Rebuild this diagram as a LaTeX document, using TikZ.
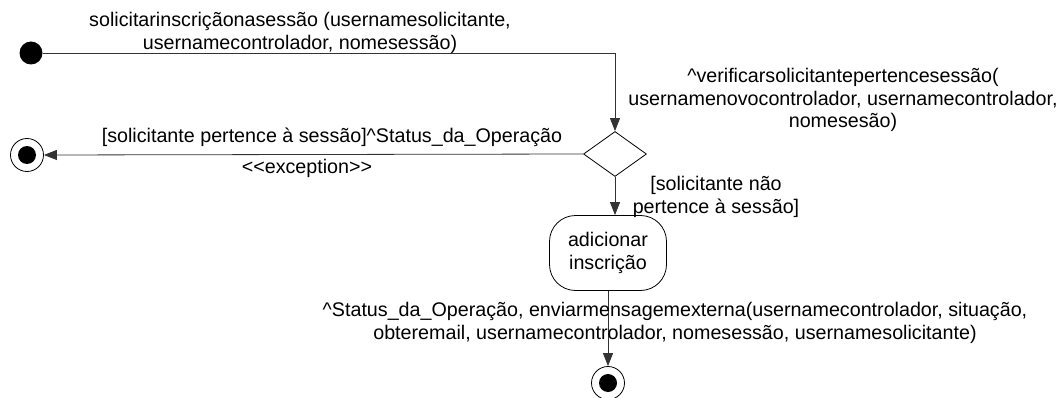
\documentclass[tikz,border=0pt]{standalone}
\usepackage{fontspec}
\setmainfont{Liberation Sans}
\usetikzlibrary{shapes.geometric,arrows.meta}
\begin{document}
\begin{tikzpicture}[x=1pt,y=-1pt,
  conn/.style={draw=black!80, line width=0.8pt},
  arr/.style={conn,-{Triangle[length=13pt,width=10pt]}},
  lbl/.style={font=\fontsize{19.7}{22.5}\selectfont, align=center, inner sep=0pt},
  startstate/.style={circle, fill=black, minimum size=23pt, inner sep=0pt},
  endstate/.style={circle, draw=black, line width=0.8pt, minimum size=33pt, inner sep=0pt},
  decision/.style={diamond, draw=black, line width=0.8pt, minimum width=63pt, minimum height=45pt, inner sep=0pt, aspect=1.4},
  activity/.style={draw=black, line width=0.8pt, rounded corners=26pt, minimum width=117pt, minimum height=75pt, inner sep=0pt, align=center, font=\fontsize{19.7}{22.5}\selectfont}
]
\useasboundingbox (0,0) rectangle (1064,398);
\node[startstate] (s) at (31,53) {};
\coordinate (c1) at (615,53);
\node[decision] (d) at (615,154) {};
\node[endstate] (e1) at (27,155) {};
\fill (e1.center) circle (9);
\node[activity] (a) at (608,253) {adicionar\\inscrição};
\node[endstate] (e2) at (608,383) {};
\fill (e2.center) circle (9);

\draw[arr] (s) -- (c1) -- (d.north);
\draw[arr] (d.west) -- (e1.east);
\draw[arr] (d.south) -- (d.south |- a.north);
\draw[arr] (a.south) -- (e2.north);

\node[lbl] (l1) at (300,33) {solicitarinscriçãonasessão (usernamesolicitante,\\usernamecontrolador, nomesessão)};
\node[lbl] (l2) at (843,100) {\textasciicircum verificarsolicitantepertencesessão(\\usernamenovocontrolador, usernamecontrolador,\\nomesesão)};
\node[lbl] (l3) at (332,137) {[solicitante pertence à sessão]\textasciicircum Status\_da\_Operação};
\node[lbl] (l4) at (307,168) {{<}{<}exception{>}{>}};
\node[lbl] (l5) at (716,197) {[solicitante não\\pertence à sessão]};
\node[lbl] (l6) at (675,323) {\textasciicircum Status\_da\_Operação, enviarmensagemexterna(usernamecontrolador, situação,\\obteremail, usernamecontrolador, nomesessão, usernamesolicitante)};
\end{tikzpicture}
\end{document}
